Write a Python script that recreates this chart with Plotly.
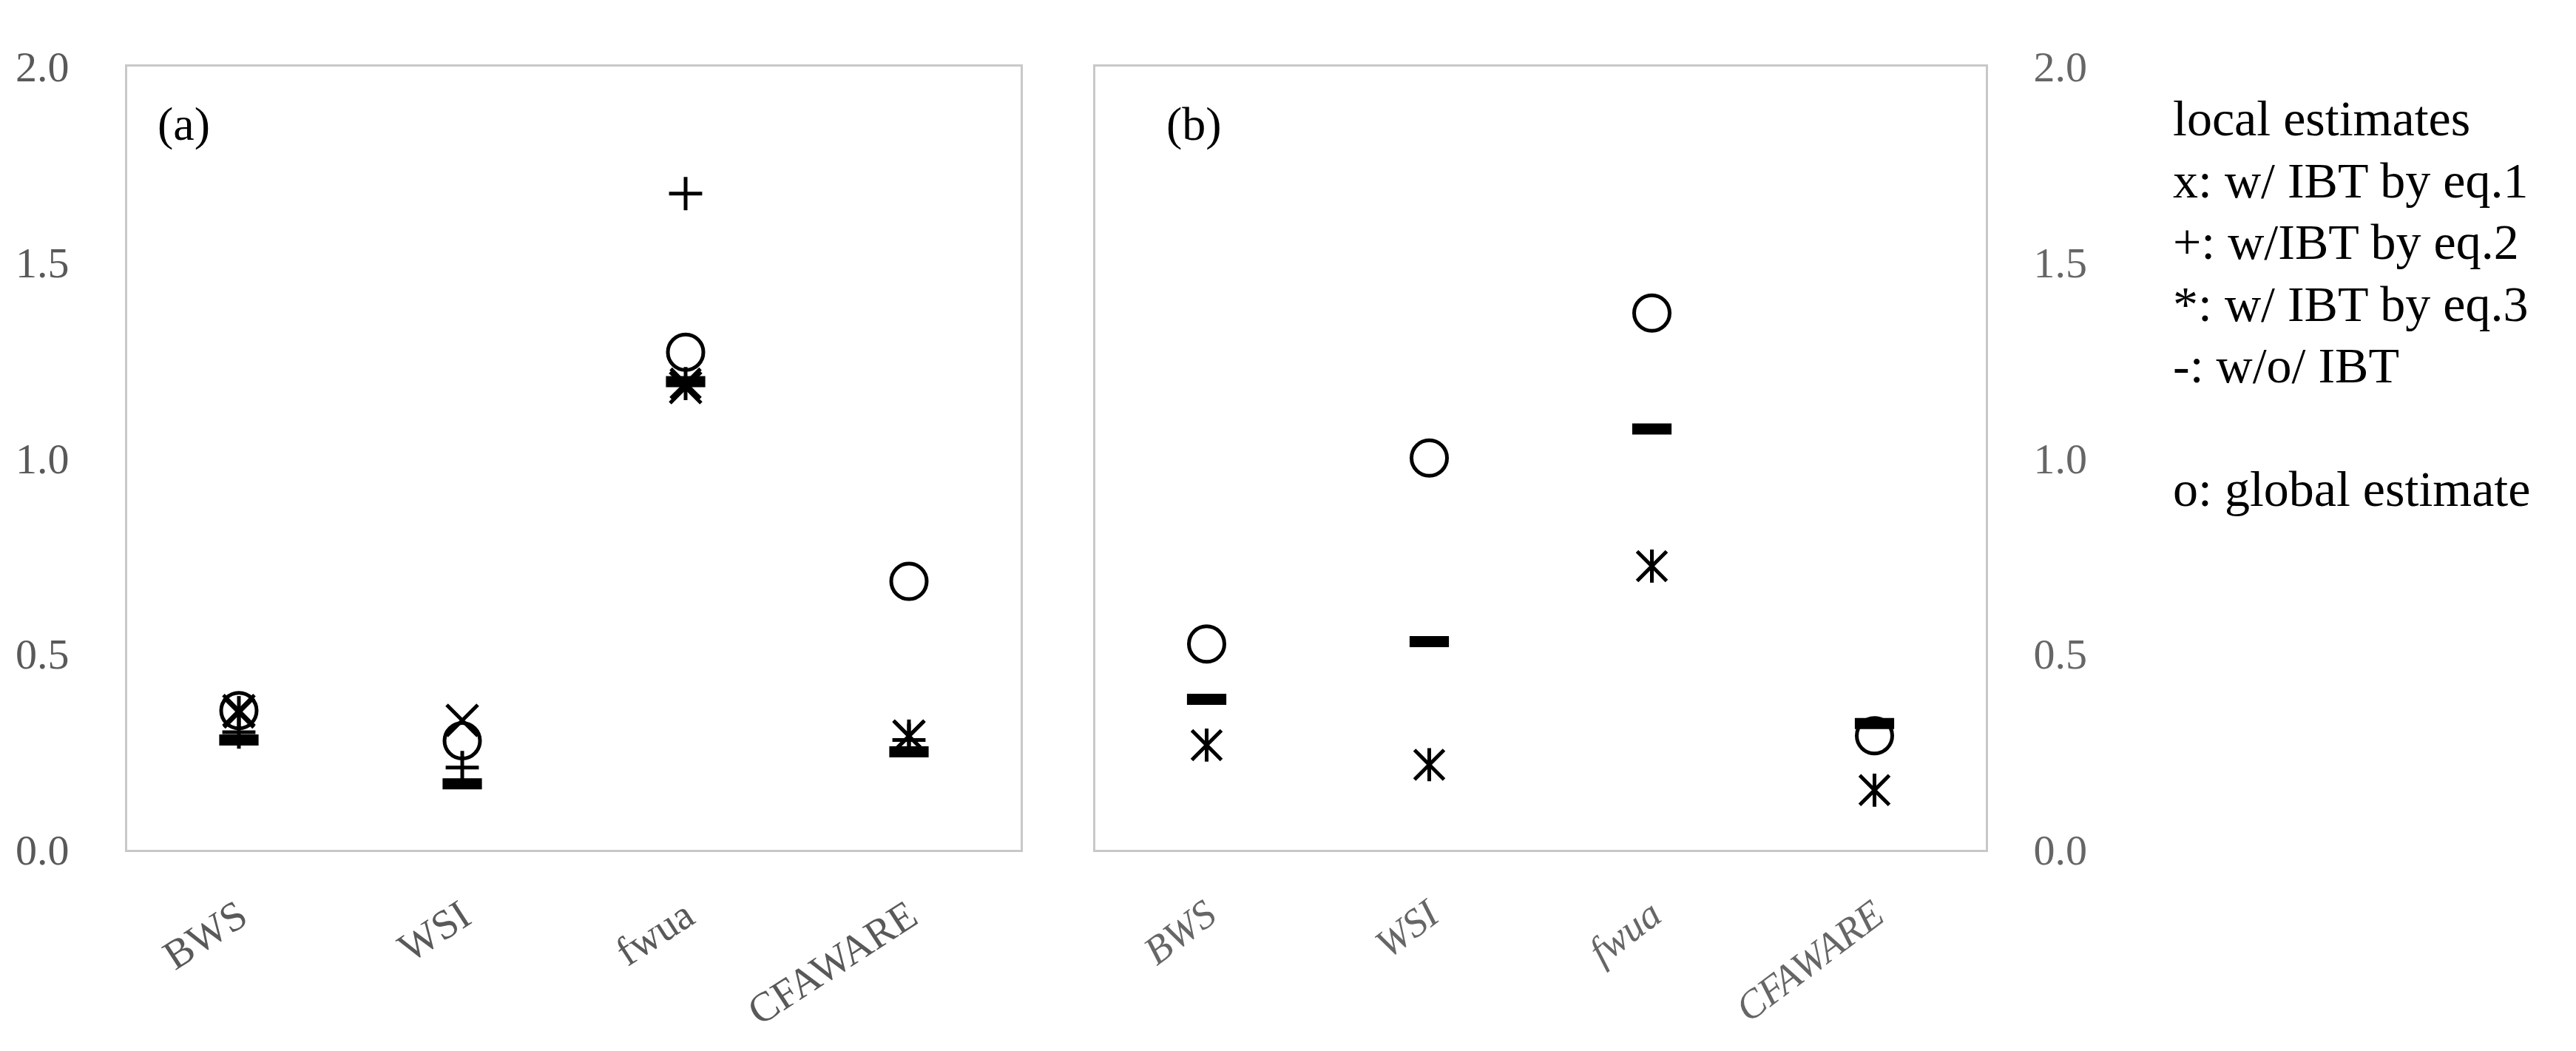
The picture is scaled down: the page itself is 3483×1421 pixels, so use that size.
import plotly.graph_objects as go

categories = ["BWS", "WSI", "fwua", "CFAWARE"]
y_ticks = [0.0, 0.5, 1.0, 1.5, 2.0]

# panel (a)
a_x = [0.355, 0.33, 1.18, 0.29]
a_plus = [0.30, 0.21, 1.675, 0.28]
a_star = [0.35, None, 1.19, 0.29]
a_dash = [0.28, 0.168, 1.195, 0.25]
a_circle = [0.355, 0.278, 1.27, 0.685]

# panel (b)
b_star = [0.267, 0.217, 0.724, 0.152]
b_dash = [0.384, 0.531, 1.074, 0.322]
b_circle = [0.525, 1.0, 1.37, 0.291]

legend_lines = ["local estimates", "x: w/ IBT by eq.1", "+: w/IBT by eq.2",
                "*: w/ IBT by eq.3", "-: w/o/ IBT", "o: global estimate"]
legend_rows = [0, 1, 2, 3, 4, 6]

FONT = "Liberation Serif, Times New Roman, serif"
BLACK = "#000000"

fig = go.Figure()


def add_series(vals, xa, ya, symbol, size, width):
    fig.add_trace(go.Scatter(
        x=categories, y=vals, xaxis=xa, yaxis=ya, mode="markers",
        marker=dict(symbol=symbol, size=size, color=BLACK,
                    line=dict(color=BLACK, width=width)),
        showlegend=False, hoverinfo="skip"))


# panel (a)
add_series(a_circle, "x", "y", "circle-open", 48, 5)
add_series(a_x, "x", "y", "x-thin-open", 42, 5)
add_series(a_plus, "x", "y", "cross-thin-open", 32, 5)
add_series(a_star, "x", "y", "x-thin-open", 40, 5)
add_series(a_star, "x", "y", "line-ns-open", 32, 5)
add_series(a_dash, "x", "y", "line-ew-open", 38, 15)

# panel (b)
add_series(b_circle, "x2", "y2", "circle-open", 48, 5)
add_series(b_star, "x2", "y2", "x-thin-open", 40, 5)
add_series(b_star, "x2", "y2", "line-ns-open", 32, 5)
add_series(b_dash, "x2", "y2", "line-ew-open", 38, 15)

W, H = 3483, 1421
ya_dom = [1 - 1162 / H, 1 - 52 / H]

axis_common = dict(showgrid=False, zeroline=False, showline=True, mirror=True,
                   linecolor="#c8c8c8", linewidth=3, ticks="")

fig.update_layout(
    width=W, height=H,
    margin=dict(l=0, r=0, t=0, b=0),
    paper_bgcolor="white", plot_bgcolor="white",
    font=dict(family=FONT, color="#595959"),
    xaxis=dict(domain=[164 / W, 1372 / W], anchor="y", type="category",
               categoryorder="array", categoryarray=categories,
               range=[-0.5, 3.5], tickangle=-33, ticklabelstandoff=32,
               tickfont=dict(size=56, color="#595959", family=FONT), **axis_common),
    yaxis=dict(domain=ya_dom, anchor="x", range=[0, 2], tickvals=y_ticks,
               ticktext=[f"{v:.1f}" for v in y_ticks], ticklabelstandoff=64,
               tickfont=dict(size=58, color="#595959", family=FONT), **axis_common),
    xaxis2=dict(domain=[1473 / W, 2677 / W], anchor="y2", type="category",
                categoryorder="array", categoryarray=categories,
                range=[-0.5, 3.5], tickangle=-37, ticklabelstandoff=32,
                tickfont=dict(size=54, color="#666666", family=FONT, style="italic"),
                **axis_common),
    yaxis2=dict(domain=ya_dom, anchor="x2", range=[0, 2], side="right",
                tickvals=y_ticks, ticktext=[f"{v:.1f}" for v in y_ticks],
                ticklabelstandoff=50,
                tickfont=dict(size=58, color="#666666", family=FONT), **axis_common),
)

fig.add_annotation(x=241 / W, y=1 - 134 / H, xref="paper", yref="paper",
                   text="(a)", showarrow=False, xanchor="center", yanchor="middle",
                   font=dict(size=64, color=BLACK, family=FONT))
fig.add_annotation(x=1606 / W, y=1 - 134 / H, xref="paper", yref="paper",
                   text="(b)", showarrow=False, xanchor="center", yanchor="middle",
                   font=dict(size=64, color=BLACK, family=FONT))

for line, row in zip(legend_lines, legend_rows):
    fig.add_annotation(x=2928 / W, y=1 - (126 + 87.5 * row) / H,
                       xref="paper", yref="paper", text=line, showarrow=False,
                       xanchor="left", yanchor="middle", align="left",
                       font=dict(size=68, color=BLACK, family=FONT))

fig.write_html("out.html")
